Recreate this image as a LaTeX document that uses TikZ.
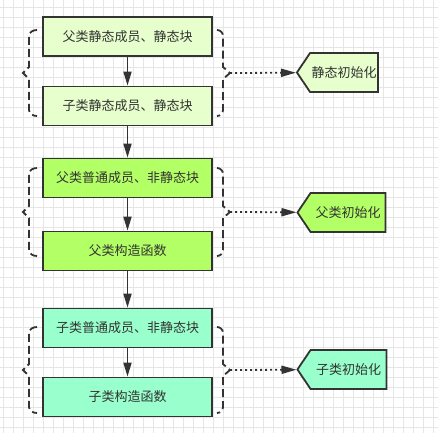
\documentclass[tikz,border=0pt]{standalone}
\usepackage{fontspec}
\setmainfont{Noto Sans CJK SC}
\usetikzlibrary{arrows.meta,shapes.symbols}

\definecolor{linegray}{HTML}{333333}
\definecolor{gridgray}{HTML}{E6E6E6}
\definecolor{staticfill}{HTML}{E6FFCC}
\definecolor{parentfill}{HTML}{B3FF66}
\definecolor{childfill}{HTML}{99FFCC}

\tikzset{
  stagebox/.style={draw=linegray, line width=1.8pt, minimum width=169pt, minimum height=39pt,
    inner sep=0pt, text=linegray, font=\fontsize{13}{15}\selectfont},
  tagbox/.style={signal, signal to=west, signal pointer angle=112, draw=linegray, line width=1.8pt,
    minimum width=81pt, minimum height=39pt, inner sep=0pt, text=linegray, font=\fontsize{13}{15}\selectfont},
  flow/.style={draw=linegray, line width=1.8pt, -{Triangle[length=14pt,width=8pt]}},
  bracket/.style={draw=linegray, line width=1.8pt, dash pattern=on 8pt off 4pt},
  hint/.style={draw=linegray, line width=1.8pt, dash pattern=on 2pt off 3pt, -{Triangle[length=15pt,width=8pt]}},
  gridline/.style={draw=gridgray, line width=0.8pt}
}

\begin{document}
\begin{tikzpicture}[x=1pt, y=-1pt]
  \useasboundingbox (0,0) rectangle (438,433);
  \fill[white] (0,0) rectangle (438,433);
  % background grid
  \foreach \gx in {3,13,...,433}
    \draw[gridline] (\gx,0) -- (\gx,433);
  \foreach \gy in {7,17,...,427}
    \draw[gridline] (0,\gy) -- (438,\gy);

  % steps
  \node (pstatic) [stagebox, fill=staticfill] at (127.5,36.5) {父类静态成员、静态块};
  \node (cstatic) [stagebox, fill=staticfill] at (127.5,106) {子类静态成员、静态块};
  \node (pmember) [stagebox, fill=parentfill] at (127.5,178) {父类普通成员、非静态块};
  \node (pctor) [stagebox, fill=parentfill] at (127.5,251) {父类构造函数};
  \node (cmember) [stagebox, fill=childfill] at (127.5,328) {子类普通成员、非静态块};
  \node (cctor) [stagebox, fill=childfill] at (127.5,397) {子类构造函数};

  \draw[flow] (pstatic) -- (cstatic);
  \draw[flow] (cstatic) -- (pmember);
  \draw[flow] (pmember) -- (pctor);
  \draw[flow] (pctor) -- (cmember);
  \draw[flow] (cmember) -- (cctor);

  % stage labels
  \node (tag1) [tagbox, fill=staticfill] at (344,72.5) {静态初始化};
  \node (tag2) [tagbox, fill=parentfill, minimum width=88pt] at (348,212.5) {父类初始化};
  \node (tag3) [tagbox, fill=childfill, minimum width=89pt] at (348.5,369.5) {子类初始化};

  % brackets round each stage
  \foreach \i/\t/\m/\b in {1/30/73/116, 2/168/212/256, 3/327/370/413} {
    \draw[bracket] (37,\t) to[out=180,in=90] (29,\t+6) -- (29,\m-6) -- (23,\m) -- (29,\m+6)
      -- (29,\b-6) to[out=-90,in=180] (37,\b);
    \draw[bracket] (217,\t) to[out=0,in=90] (223,\t+6) -- (223,\m-6) -- (230,\m) -- (223,\m+6)
      -- (223,\b-6) to[out=-90,in=0] (217,\b);
    \coordinate (r\i) at (230,\m);
  }

  \draw[hint] (r1) -- (tag1);
  \draw[hint] (r2) -- (tag2);
  \draw[hint] (r3) -- (tag3);
\end{tikzpicture}
\end{document}
